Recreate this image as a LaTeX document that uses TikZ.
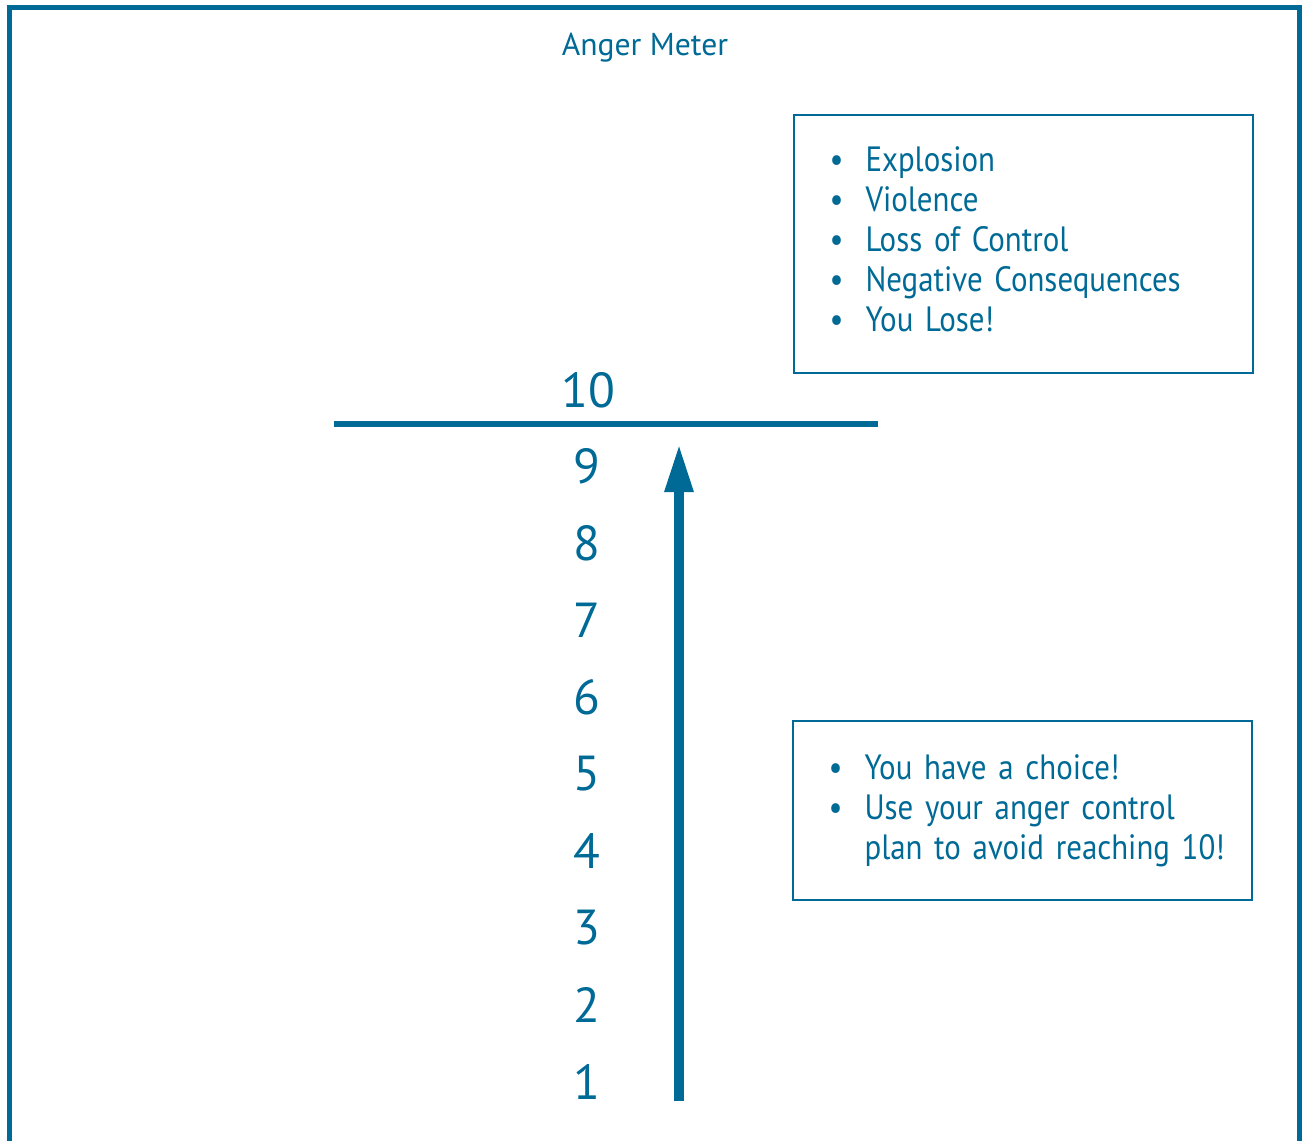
\documentclass[tikz,border=0pt]{standalone}
\usepackage{xcolor}
\usepackage{fontspec}
\setmainfont{PT Sans}
\newfontfamily\boxfont[FakeStretch=0.88]{PT Sans}
\usepackage{tikz}
\usetikzlibrary{arrows.meta, positioning}
\definecolor{meterblue}{RGB}{0,106,150}
\newcommand{\bul}[1]{\makebox[0.72cm][l]{\textbullet}\mbox{#1}}
\begin{document}
\begin{tikzpicture}[x=0.02cm, y=-0.02cm, every node/.style={text=meterblue, inner sep=0pt}]
\tikzstyle{numlabel} = [font=\fontsize{28}{28}\selectfont]
\tikzstyle{infobox} = [rectangle, draw=meterblue, line width=1.2pt, text width=7.76cm, inner xsep=0.71cm, align=left, font=\boxfont\fontsize{20}{22.7}\selectfont]

\useasboundingbox (0,0) rectangle (1305,1141);
\draw[meterblue, line width=2.8pt] (9.5,1141) -- (9.5,7.5) -- (1299.5,7.5) -- (1299.5,1141);

\node (title) at (645,48) {\fontsize{18}{18}\selectfont Anger Meter};

\foreach \n in {1,...,9}
  \node (n\n) [numlabel] at (587,{1082-77*(\n-1)}) {\n};
\node (n10) [numlabel] at (588,390) {10};

\coordinate (lineL) at (334,424);
\coordinate (lineR) at (878,424);
\draw[meterblue, line width=3pt] (lineL) -- (lineR);

\coordinate (arrowbase) at (679,1101);
\coordinate (arrowtip) at (679,443);
\draw[meterblue, line width=6pt, -{Triangle[length=28pt, width=15pt]}] (arrowbase) -- (arrowtip);

\node (topbox) [infobox, minimum height=5.16cm, anchor=north west] at (793,114)
  {\bul{Explosion}\\ \bul{Violence}\\ \bul{Loss of Control}\\ \bul{Negative Consequences}\\ \bul{You Lose!}\vspace{0.2cm}};
\node (lowbox) [infobox, minimum height=3.58cm, anchor=north west] at (792,720)
  {\bul{You have a choice!}\\ \bul{Use your anger control}\\ \hspace*{0.72cm}\mbox{plan to avoid reaching 10!}};
\end{tikzpicture}
\end{document}
